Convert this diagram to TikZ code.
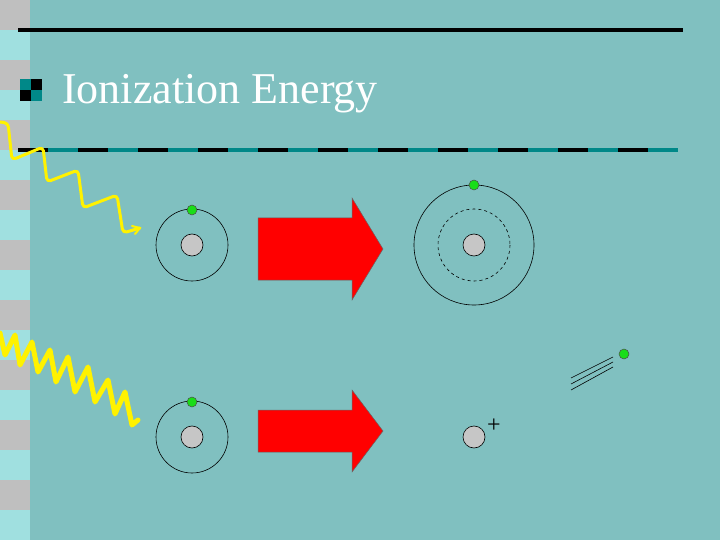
\documentclass[tikz,border=0pt]{standalone}
\usepackage{fontspec}
\setmainfont{Liberation Serif}
\begin{document}
\begin{tikzpicture}[x=1pt,y=-1pt,
  orbit/.style={draw=black,line width=0.6pt},
  nucleus/.style={circle,draw=black,fill=gray!45,minimum size=22pt,inner sep=0pt,line width=0.6pt},
  electron/.style={circle,draw=black!70,fill=green!85!black!90,minimum size=10pt,inner sep=0pt,line width=0.5pt},
  bigarrow/.style={fill=red,draw=black!60,line width=0.5pt},
  wave/.style={draw=yellow,line join=round,line cap=round}]
\definecolor{bg}{HTML}{80C0C0}
\definecolor{strip}{HTML}{A0E0E0}
\definecolor{dteal}{HTML}{008888}
\fill[bg] (0,0) rectangle (720,540);
\useasboundingbox (0,0) rectangle (720,540);
\foreach \i in {0,...,8}{
  \fill[gray!50] (0,{60*\i}) rectangle (30,{60*\i+30});
  \fill[strip] (0,{60*\i+30}) rectangle (30,{60*\i+60});
}
\draw[line width=4pt] (18,30) -- (683,30);
\foreach \i in {0,...,10}{
  \draw[line width=4pt] ({18+60*\i},150) -- ({48+60*\i},150);
  \draw[line width=4pt,dteal] ({48+60*\i},150) -- ({min(78+60*\i,678)},150);
}
% bullet
\fill[dteal] (20,79) rectangle (31,90);
\fill[black] (31,79) rectangle (42,90);
\fill[black] (20,90) rectangle (31,101);
\fill[dteal] (31,90) rectangle (42,101);
\node[anchor=base west,text=white,font=\fontsize{44}{48}\selectfont,inner sep=0pt] (title) at (62,104) {Ionization Energy};
% waves
\draw[wave,line width=3pt,rounded corners=4pt] (0,122)--(8,123)--(12,160)--(43,147)--(47,182)--(78,170)--(83,208)--(117,195)--(123,233)--(140,228);
\draw[wave,line width=2pt] (132,226)--(140,228)--(135,234);
\draw[wave,line width=5pt] (0,333)--(5,355)--(15,335)--(20,365)--(32,342)--(38,372)--(50,350)--(56,382)--(68,357)--(75,392)--(88,367)--(95,402)--(108,380)--(115,414)--(125,392)--(132,425)--(138,420);
% atoms
\node[nucleus] (n1) at (192,245) {};
\draw[orbit] (n1.center) circle (36);
\node[electron] (e1) at (192,210) {};
\node[nucleus] (n2) at (474,245) {};
\draw[orbit] (n2.center) circle (60);
\draw[orbit,dashed] (n2.center) circle (36);
\node[electron] (e2) at (474,185) {};
\node[nucleus] (n3) at (192,437) {};
\draw[orbit] (n3.center) circle (36);
\node[electron] (e3) at (192,402) {};
\node[nucleus] (n4) at (474,437) {};
\node[inner sep=0pt,font=\fontsize{24}{24}\selectfont] (plus) at (494,426) {+};
\node[electron] (e4) at (624,354) {};
\draw[line width=0.6pt] (571,378)--(613,357) (571,384)--(613,362) (571,390)--(613,367);
% arrows
\draw[bigarrow] (258,218)--(352,218)--(352,198)--(383,249)--(352,300)--(352,280)--(258,280)--cycle;
\draw[bigarrow] (258,410)--(352,410)--(352,390)--(383,431)--(352,472)--(352,452)--(258,452)--cycle;
\end{tikzpicture}
\end{document}
